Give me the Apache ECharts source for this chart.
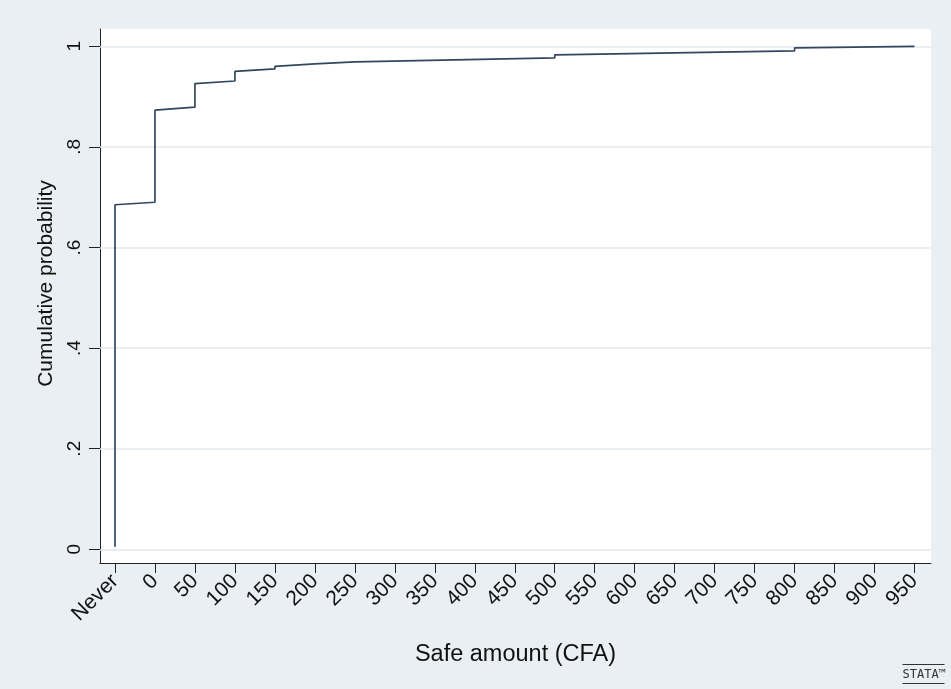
<!DOCTYPE html>
<html>
<head>
<meta charset="utf-8">
<title>Cumulative probability of safe amount</title>
<script src="https://cdn.jsdelivr.net/npm/echarts@6/dist/echarts.min.js"></script>
<style>
  html, body { margin: 0; padding: 0; background: #e9eff2; }
  #chart { width: 951px; height: 689px; }
</style>
</head>
<body>
<div id="chart"></div>
<script>
// Empirical CDF of the safe amount; "Never" is plotted at -50.
const safeAmount = [-50, -50, 0, 0, 50, 50, 100, 100, 150, 150, 200, 250, 500, 500, 800, 800, 950];
const cumProb    = [0.005, 0.685, 0.690, 0.873, 0.879, 0.926, 0.931, 0.950, 0.955, 0.960, 0.965, 0.969, 0.977, 0.983, 0.991, 0.997, 1.0];

// Axis ticks
const xTickValues = [-50, 0, 50, 100, 150, 200, 250, 300, 350, 400, 450, 500, 550, 600, 650, 700, 750, 800, 850, 900, 950];
const xTickLabels = ['Never', '0', '50', '100', '150', '200', '250', '300', '350', '400', '450', '500', '550', '600', '650', '700', '750', '800', '850', '900', '950'];
const yTickValues = [0, 0.2, 0.4, 0.6, 0.8, 1];
const yTickLabels = ['0', '.2', '.4', '.6', '.8', '1'];

const FONT = '"Liberation Sans", Arial, sans-serif';
const chart = echarts.init(document.getElementById('chart'), null, { renderer: 'canvas' });

const xLabelOf = v => {
  const i = xTickValues.indexOf(v);
  return i >= 0 ? xTickLabels[i] : '';
};
const yLabelOf = v => {
  const i = yTickValues.findIndex(t => Math.abs(t - v) < 1e-9);
  return i >= 0 ? yTickLabels[i] : '';
};

chart.setOption({
  backgroundColor: '#e9eff2',
  animation: false,
  grid: {
    left: 100, right: 20, top: 29, bottom: 126,
    show: true, backgroundColor: '#ffffff', borderWidth: 0
  },
  xAxis: {
    type: 'value',
    min: -68.75, max: 970.6,
    name: 'Safe amount (CFA)',
    nameLocation: 'middle',
    nameGap: 80,
    nameTextStyle: { fontFamily: FONT, fontSize: 23.5, color: '#111' },
    axisLine: { onZero: false, lineStyle: { color: '#222', width: 1 } },
    axisTick: { customValues: xTickValues, length: 10, lineStyle: { color: '#222', width: 1 } },
    axisLabel: {
      customValues: xTickValues,
      formatter: xLabelOf,
      rotate: 45, margin: 15,
      fontFamily: FONT, fontSize: 21, color: '#111'
    },
    splitLine: { show: false }
  },
  yAxis: {
    type: 'value',
    min: -0.0272, max: 1.0344,
    name: 'Cumulative probability',
    nameLocation: 'middle',
    nameRotate: 90,
    nameGap: 43,
    nameTextStyle: { fontFamily: FONT, fontSize: 21, color: '#111', padding: [0, 0, 0, 25] },
    axisLine: { onZero: false, lineStyle: { color: '#222', width: 1 } },
    axisTick: { customValues: yTickValues, length: 11, lineStyle: { color: '#222', width: 1 } },
    axisLabel: {
      customValues: yTickValues,
      formatter: yLabelOf,
      rotate: 90, margin: 16,
      fontFamily: FONT, fontSize: 19, color: '#111'
    },
    splitLine: { show: false }
  },
  series: [
    {
      // horizontal grid lines at the y ticks, spanning the plot region
      type: 'line',
      data: [],
      z: 1,
      silent: true,
      markLine: {
        z: 1,
        silent: true,
        symbol: 'none',
        label: { show: false },
        lineStyle: { color: '#e2e9ee', width: 1.5, type: 'solid' },
        data: yTickValues.map(v => ({ yAxis: v }))
      }
    },
    {
      type: 'line',
      z: 3,
      data: safeAmount.map((x, i) => [x, cumProb[i]]),
      showSymbol: false,
      symbol: 'none',
      lineStyle: { color: '#33465f', width: 1.7 }
    }
  ],
  graphic: [
    {
      type: 'group',
      right: 4, bottom: 3,
      children: [
        { type: 'line', shape: { x1: 0, y1: 0, x2: 42, y2: 0 }, style: { stroke: '#333', lineWidth: 1 } },
        { type: 'text', x: 0, y: 4, style: { text: 'STATA™', font: '12px "DejaVu Sans Mono", monospace', fill: '#333' } },
        { type: 'line', shape: { x1: 0, y1: 19, x2: 42, y2: 19 }, style: { stroke: '#333', lineWidth: 1 } }
      ]
    }
  ]
});
</script>
</body>
</html>
